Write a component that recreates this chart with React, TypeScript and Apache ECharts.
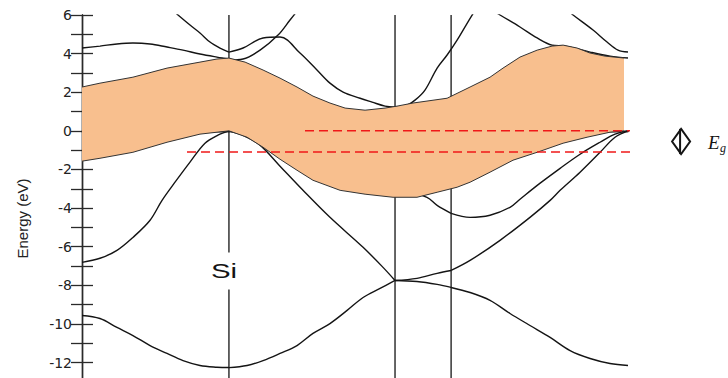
import { useEffect, useRef } from "react";
import * as echarts from "echarts";

// k-path L – Γ – X – U,K – Γ, in units of 2π/a
const K_MAX = 3.281;
const kGamma = 0.883;
const kX = 1.881;
const kUK = 2.218;
const symmetryLines = [kGamma, kX, kUK];

const E_MIN = -12.8;
const E_MAX = 6;
const energyLabels = [-12, -10, -8, -6, -4, -2, 0, 2, 4, 6];
const energyTicks = [-12, -11, -10, -9, -8, -7, -6, -5, -4, -3, -2, -1, 0, 1, 2, 3, 4, 5, 6];

// Valence bands of Si, [k, E(eV)]
const v1LG = [[0, -9.56], [0.108, -9.72], [0.21, -10.18], [0.306, -10.6], [0.409, -11.12], [0.511, -11.53], [0.607, -11.9], [0.709, -12.15], [0.811, -12.24], [0.883, -12.26]];
const v1GX = [[0.883, -12.26], [0.992, -12.15], [1.088, -11.9], [1.19, -11.53], [1.292, -11.12], [1.388, -10.49], [1.49, -9.98], [1.593, -9.3], [1.689, -8.63], [1.791, -8.16], [1.881, -7.75]];
const v1XK = [[1.881, -7.75], [2.013, -7.8], [2.134, -7.95], [2.218, -8.11]];
const v1KG = [[2.218, -8.11], [2.332, -8.37], [2.452, -8.78], [2.572, -9.46], [2.692, -10.08], [2.813, -10.7], [2.933, -11.38], [3.053, -11.79], [3.173, -12.05], [3.281, -12.15]];

const v2LG = [[0, -6.81], [0.108, -6.6], [0.21, -6.19], [0.306, -5.52], [0.409, -4.63], [0.481, -3.6], [0.559, -2.66], [0.649, -1.62], [0.739, -0.64], [0.817, -0.22], [0.883, 0]];
const v2GX = [[0.883, 0], [0.98, -0.28], [1.07, -0.74], [1.19, -1.83], [1.328, -3.08], [1.49, -4.48], [1.689, -6.03], [1.809, -7.07], [1.881, -7.75]];
const v2XK = [[1.881, -7.75], [2.013, -7.64], [2.134, -7.38], [2.218, -7.23]];
const v2KG = [[2.218, -7.23], [2.332, -6.71], [2.512, -5.67], [2.692, -4.48], [2.813, -3.6], [2.873, -3.08], [2.993, -2.14], [3.113, -1.11], [3.203, -0.33], [3.281, 0]];

const v3XK = [[1.881, -2.92], [2.073, -3.44], [2.134, -3.86], [2.218, -4.27]];
const v3KG = [[2.218, -4.27], [2.332, -4.48], [2.452, -4.37], [2.572, -3.96], [2.632, -3.54], [2.753, -2.71], [2.873, -1.94], [2.993, -1.21], [3.113, -0.59], [3.203, -0.17], [3.281, 0]];

// Conduction bands
const c1LG = [[0, 4.29], [0.108, 4.39], [0.21, 4.5], [0.306, 4.55], [0.409, 4.5], [0.511, 4.34], [0.607, 4.18], [0.709, 3.98], [0.811, 3.82], [0.883, 3.72]];
const c2LG = [[0.529, 6.36], [0.577, 6.0], [0.649, 5.48], [0.709, 5.07], [0.769, 4.6], [0.829, 4.29], [0.883, 4.08]];
const c3GX = [[0.883, 4.08], [0.968, 4.29], [1.088, 4.81], [1.19, 4.86], [1.31, 4.03], [1.412, 3.15], [1.49, 2.47], [1.569, 2.01], [1.671, 1.69], [1.743, 1.49], [1.821, 1.28], [1.881, 1.23]];
const c4GX = [[0.883, 3.67], [0.968, 3.72], [1.07, 4.18], [1.178, 4.96], [1.25, 5.74], [1.298, 6.26]];
const c5XK = [[1.881, 1.23], [1.941, 1.28], [2.001, 1.59], [2.061, 2.11], [2.134, 3.25], [2.194, 3.93], [2.254, 4.7], [2.308, 5.48], [2.356, 6.16]];
const c6KG = [[2.464, 6.26], [2.512, 6.0], [2.632, 5.38], [2.735, 4.81], [2.825, 4.44], [2.903, 4.39], [3.053, 4.08], [3.173, 3.87], [3.281, 3.77]];
const c7KG = [[2.915, 6.26], [2.951, 6.0], [3.071, 5.22], [3.155, 4.6], [3.221, 4.18], [3.281, 4.08]];

const bands = [v1LG, v1GX, v1XK, v1KG, v2LG, v2GX, v2XK, v2KG, v3XK, v3KG, c1LG, c2LG, c3GX, c4GX, c5XK, c6KG, c7KG];

// Shaded energy window: upper and lower edges
const windowTop = [[0, 2.27], [0.108, 2.47], [0.306, 2.78], [0.511, 3.25], [0.709, 3.56], [0.811, 3.72], [0.883, 3.77], [0.98, 3.56], [1.088, 3.15], [1.19, 2.73], [1.292, 2.27], [1.388, 1.8], [1.49, 1.44], [1.581, 1.18], [1.701, 1.07], [1.821, 1.18], [1.893, 1.28], [1.989, 1.44], [2.194, 1.69], [2.332, 2.27], [2.452, 2.78], [2.53, 3.25], [2.632, 3.82], [2.735, 4.18], [2.825, 4.39], [2.891, 4.44], [2.975, 4.29], [3.053, 4.03], [3.143, 3.87], [3.257, 3.77]];
const windowBottom = [[0, -1.57], [0.108, -1.42], [0.306, -1.11], [0.511, -0.59], [0.709, -0.17], [0.883, 0], [0.992, -0.33], [1.088, -0.85], [1.19, -1.47], [1.292, -2.04], [1.388, -2.56], [1.551, -3.08], [1.701, -3.28], [1.869, -3.44], [2.013, -3.44], [2.134, -3.18], [2.254, -2.92], [2.332, -2.66], [2.452, -2.14], [2.59, -1.52], [2.735, -1.11], [2.891, -0.64], [3.035, -0.33], [3.173, -0.07], [3.257, 0]];

// Band gap markers
const valenceTop = 0;
const gapEnergy = 1.1;
const upperGapLine = [[1.34, 0], [3.57, 0]];
const lowerGapLine = [[0.631, -1.1], [3.546, -1.1]];
const kGapMarker = 3.6;
const siLabelEnergy = -7.23;

const ORANGE = "#F8BF8E";
const INK = "#141414";

export default function App() {
  const ref = useRef<HTMLDivElement>(null);

  useEffect(() => {
    const chart = echarts.init(ref.current!, undefined, { renderer: "svg" });

    const bandSeries = bands.map((data) => ({
      type: "line",
      data,
      smooth: 0.35,
      symbol: "none",
      silent: true,
      z: 2,
      lineStyle: { color: INK, width: 1.4 },
    }));

    const verticalSeries = symmetryLines.map((k) => ({
      type: "line",
      data: [[k, E_MIN], [k, E_MAX]],
      symbol: "none",
      silent: true,
      z: 1,
      lineStyle: { color: INK, width: 1.3 },
    }));

    const dashSeries = [upperGapLine, lowerGapLine].map((data) => ({
      type: "line",
      data,
      symbol: "none",
      silent: true,
      clip: false,
      z: 4,
      lineStyle: { color: "#F01818", width: 1.5, type: [9, 5] },
    }));

    const windowSeries = {
      type: "custom",
      coordinateSystem: "cartesian2d",
      silent: true,
      z: 3,
      data: [[0, 0]],
      renderItem: (_params: any, api: any) => {
        const top = windowTop.map((p) => api.coord(p));
        const bottom = windowBottom.map((p) => api.coord(p));
        const outline = top.concat(bottom.slice().reverse());
        const edge = { fill: "none", stroke: "#333", lineWidth: 1 };
        return {
          type: "group",
          children: [
            { type: "polygon", shape: { points: outline }, style: { fill: ORANGE } },
            { type: "polyline", shape: { points: top }, style: edge },
            { type: "polyline", shape: { points: bottom }, style: edge },
          ],
        };
      },
    };

    const annotationSeries = {
      type: "custom",
      coordinateSystem: "cartesian2d",
      silent: true,
      clip: false,
      z: 6,
      data: [[0, 0]],
      renderItem: (_params: any, api: any) => {
        const a = api.coord([kGapMarker, valenceTop]);
        const b = api.coord([kGapMarker, valenceTop - gapEnergy]);
        const cx = a[0];
        const y1 = a[1] - 2;
        const y2 = b[1] + 2;
        const cy = (y1 + y2) / 2;
        const si = api.coord([kGamma, siLabelEnergy]);
        return {
          type: "group",
          children: [
            {
              type: "polygon",
              shape: { points: [[cx, y1], [cx + 9, cy], [cx, y2], [cx - 9, cy]] },
              style: { fill: "none", stroke: INK, lineWidth: 2 },
            },
            {
              type: "line",
              shape: { x1: cx - 1, y1, x2: cx - 1, y2 },
              style: { stroke: INK, lineWidth: 2 },
            },
            {
              type: "text",
              x: cx + 27,
              y: cy + 1,
              style: {
                text: "E",
                fontFamily: "Liberation Serif",
                fontStyle: "italic",
                fontSize: 19,
                fill: INK,
                align: "left",
                verticalAlign: "middle",
              },
            },
            {
              type: "text",
              x: cx + 39,
              y: cy + 7,
              style: {
                text: "g",
                fontFamily: "Liberation Serif",
                fontStyle: "italic",
                fontSize: 12,
                fill: INK,
                align: "left",
                verticalAlign: "middle",
              },
            },
            {
              type: "rect",
              shape: { x: si[0] - 20, y: si[1] - 18, width: 40, height: 37 },
              style: { fill: "#fff" },
            },
            {
              type: "text",
              x: si[0] - 5,
              y: si[1],
              scaleX: 1.4,
              style: {
                text: "Si",
                fontFamily: "Liberation Sans",
                fontSize: 21,
                fill: INK,
                align: "center",
                verticalAlign: "middle",
              },
            },
          ],
        };
      },
    };

    const axisLine = { show: true, lineStyle: { color: "#2a2a2a", width: 1.4 } };

    chart.setOption({
      animation: false,
      backgroundColor: "#fff",
      grid: { left: 82, right: 100, top: 15, bottom: 0 },
      xAxis: [
        {
          type: "value",
          min: 0,
          max: K_MAX,
          axisLine,
          axisTick: { show: false },
          axisLabel: { show: false },
          splitLine: { show: false },
        },
        {
          type: "value",
          position: "top",
          min: 0,
          max: K_MAX,
          axisLine,
          axisTick: { show: false },
          axisLabel: { show: false },
          splitLine: { show: false },
        },
      ],
      yAxis: [
        {
          type: "value",
          min: E_MIN,
          max: E_MAX,
          name: "Energy (eV)",
          nameLocation: "middle",
          nameGap: 52,
          nameTextStyle: { fontSize: 15, color: "#222", fontFamily: "Liberation Sans", padding: [0, 44, 0, 0] },
          axisLine,
          axisTick: { show: true, inside: true, length: 11, customValues: energyTicks, lineStyle: { color: "#2a2a2a", width: 1.3 } },
          axisLabel: { customValues: energyLabels, margin: 10, fontSize: 14, color: "#222", fontFamily: "DejaVu Sans" },
          splitLine: { show: false },
        },
        {
          type: "value",
          position: "right",
          min: E_MIN,
          max: E_MAX,
          axisLine,
          axisTick: { show: true, inside: true, length: 11, customValues: energyTicks, lineStyle: { color: "#2a2a2a", width: 1.3 } },
          axisLabel: { show: false },
          splitLine: { show: false },
        },
      ],
      series: [...verticalSeries, ...bandSeries, windowSeries, ...dashSeries, annotationSeries],
    });

    return () => chart.dispose();
  }, []);

  return <div ref={ref} style={{ position: "fixed", left: 0, top: 0, width: 728, height: 378 }} />;
}
